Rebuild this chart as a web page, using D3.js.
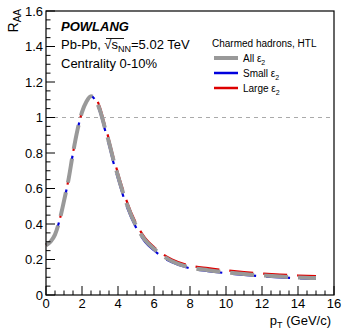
<!DOCTYPE html>
<html>
<head>
<meta charset="utf-8">
<script src="https://cdn.jsdelivr.net/npm/d3@7"></script>
<style>
  body { margin: 0; background: #fff; }
  svg { display: block; font-family: "Liberation Sans", Arial, sans-serif; }
</style>
</head>
<body>
<div id="chart"></div>
<script>
// transverse momentum grid (GeV/c)
const pT = [0, 0.25, 0.5, 0.75, 1.0, 1.25, 1.5, 1.75, 2.0, 2.25, 2.5, 2.75, 3.0, 3.25, 3.5, 3.75,
            4.0, 4.5, 5.0, 5.5, 6, 6.5, 7, 8, 9, 10, 11, 12, 13, 14, 15];

// R_AA for each event class
const raaAll   = [0.28, 0.30, 0.34, 0.42, 0.53, 0.65, 0.80, 0.93, 1.03, 1.09, 1.12, 1.10, 1.04, 0.95, 0.86, 0.76,
                  0.67, 0.51, 0.39, 0.31, 0.26, 0.22, 0.19, 0.155, 0.14, 0.128, 0.118, 0.110, 0.104, 0.099, 0.096];
const raaSmall = [0.28, 0.30, 0.34, 0.42, 0.53, 0.65, 0.80, 0.93, 1.03, 1.09, 1.12, 1.095, 1.03, 0.94, 0.845, 0.745,
                  0.655, 0.495, 0.38, 0.30, 0.252, 0.212, 0.184, 0.150, 0.135, 0.123, 0.113, 0.105, 0.099, 0.094, 0.091];
const raaLarge = [0.28, 0.30, 0.34, 0.42, 0.53, 0.65, 0.80, 0.93, 1.03, 1.09, 1.12, 1.11, 1.055, 0.965, 0.875, 0.775,
                  0.685, 0.525, 0.405, 0.322, 0.27, 0.23, 0.20, 0.166, 0.151, 0.139, 0.129, 0.121, 0.115, 0.110, 0.106];

const xTicks = [0, 2, 4, 6, 8, 10, 12, 14, 16];
const yTicks = [0, 0.2, 0.4, 0.6, 0.8, 1, 1.2, 1.4, 1.6];

const series = [
  { name: "Large", values: raaLarge, color: "#dd0000", width: 2.2, offset: 2 },
  { name: "Small", values: raaSmall, color: "#0000dd", width: 2.2, offset: -3 },
  { name: "All",   values: raaAll,   color: "#999999", width: 4,   offset: 0 }
];

const width = 342, height = 331;
const plotLeft = 46, plotRight = 334, plotTop = 11, plotBottom = 295;

const svg = d3.select("#chart").append("svg")
  .attr("width", width)
  .attr("height", height);

const x = d3.scaleLinear().domain([0, 16]).range([plotLeft, plotRight]);
const y = d3.scaleLinear().domain([0, 1.6]).range([plotBottom, plotTop]);

// reference line at R_AA = 1
svg.append("line")
  .attr("x1", x(0)).attr("x2", x(16))
  .attr("y1", y(1)).attr("y2", y(1))
  .attr("stroke", "#aaa")
  .attr("stroke-width", 1)
  .attr("stroke-dasharray", "4,4");

// curves
const line = d3.line()
  .x((d, i) => x(pT[i]))
  .y(d => y(d))
  .curve(d3.curveMonotoneX);

svg.append("g")
  .selectAll("path")
  .data(series)
  .join("path")
  .attr("d", d => line(d.values))
  .attr("fill", "none")
  .attr("stroke", d => d.color)
  .attr("stroke-width", d => d.width)
  .attr("stroke-dasharray", "24,10")
  .attr("stroke-dashoffset", d => d.offset);

// frame
svg.append("rect")
  .attr("x", plotLeft).attr("y", plotTop)
  .attr("width", plotRight - plotLeft).attr("height", plotBottom - plotTop)
  .attr("fill", "none")
  .attr("stroke", "#000")
  .attr("stroke-width", 1.2);

// ticks (ROOT style, inside the frame)
const xMinor = d3.range(0, 16.01, 0.5);
const yMinor = d3.range(0, 1.601, 0.05);

svg.append("g").selectAll("line")
  .data(xMinor)
  .join("line")
  .attr("x1", d => x(d)).attr("x2", d => x(d))
  .attr("y1", plotBottom)
  .attr("y2", d => plotBottom - (Math.abs(d / 2 - Math.round(d / 2)) < 1e-6 ? 9 : 4.5))
  .attr("stroke", "#000");

svg.append("g").selectAll("line")
  .data(yMinor)
  .join("line")
  .attr("y1", d => y(d)).attr("y2", d => y(d))
  .attr("x1", plotLeft)
  .attr("x2", d => plotLeft + (Math.abs(d / 0.2 - Math.round(d / 0.2)) < 1e-6 ? 9 : 4.5))
  .attr("stroke", "#000");

svg.append("g").selectAll("text")
  .data(xTicks)
  .join("text")
  .attr("x", d => x(d))
  .attr("y", 308)
  .attr("text-anchor", "middle")
  .attr("font-size", 13)
  .text(d => d);

svg.append("g").selectAll("text")
  .data(yTicks)
  .join("text")
  .attr("x", 43)
  .attr("y", d => y(d) + 4.5)
  .attr("text-anchor", "end")
  .attr("font-size", 13)
  .text(d => d === 0 ? "0" : String(+d.toFixed(1)));

// axis titles
const xt = svg.append("text")
  .attr("x", 331).attr("y", 325)
  .attr("text-anchor", "end")
  .attr("font-size", 13);
xt.append("tspan").text("p");
xt.append("tspan").attr("font-size", 9).attr("dy", 3).text("T");
xt.append("tspan").attr("dy", -3).text(" (GeV/c)");

const yt = svg.append("text")
  .attr("transform", "translate(18,9) rotate(-90)")
  .attr("text-anchor", "end")
  .attr("font-size", 14);
yt.append("tspan").text("R");
yt.append("tspan").attr("font-size", 10).attr("dy", 3).text("AA");

// header text
svg.append("text")
  .attr("x", 61).attr("y", 31)
  .attr("font-size", 13)
  .attr("font-weight", "bold")
  .attr("font-style", "italic")
  .text("POWLANG");

const t2 = svg.append("text")
  .attr("x", 61).attr("y", 49)
  .attr("font-size", 13);
t2.append("tspan").text("Pb-Pb, ");
t2.append("tspan").text("\u221A");
t2.append("tspan").text("s");
t2.append("tspan").attr("font-size", 9).attr("dy", 3).text("NN");
t2.append("tspan").attr("dy", -3).text("=5.02 TeV");
// overline of the square root
svg.append("line")
  .attr("x1", 106).attr("x2", 124)
  .attr("y1", 38.5).attr("y2", 38.5)
  .attr("stroke", "#000").attr("stroke-width", 0.9);

svg.append("text")
  .attr("x", 61).attr("y", 68)
  .attr("font-size", 13)
  .text("Centrality 0-10%");

// legend
svg.append("text")
  .attr("x", 212).attr("y", 47)
  .attr("font-size", 10)
  .text("Charmed hadrons, HTL");

const legendItems = [
  { label: "All", color: "#999999", width: 4, yPos: 58 },
  { label: "Small", color: "#0000dd", width: 2.5, yPos: 73 },
  { label: "Large", color: "#dd0000", width: 2.5, yPos: 88 }
];

const lg = svg.append("g").selectAll("g")
  .data(legendItems)
  .join("g");

lg.append("line")
  .attr("x1", 214).attr("x2", 238)
  .attr("y1", d => d.yPos).attr("y2", d => d.yPos)
  .attr("stroke", d => d.color)
  .attr("stroke-width", d => d.width);

const lt = lg.append("text")
  .attr("x", 243).attr("y", d => d.yPos + 3.5)
  .attr("font-size", 10);
lt.append("tspan").text(d => d.label + " \u03B5");
lt.append("tspan").attr("font-size", 7).attr("dy", 3).text("2");
</script>
</body>
</html>
